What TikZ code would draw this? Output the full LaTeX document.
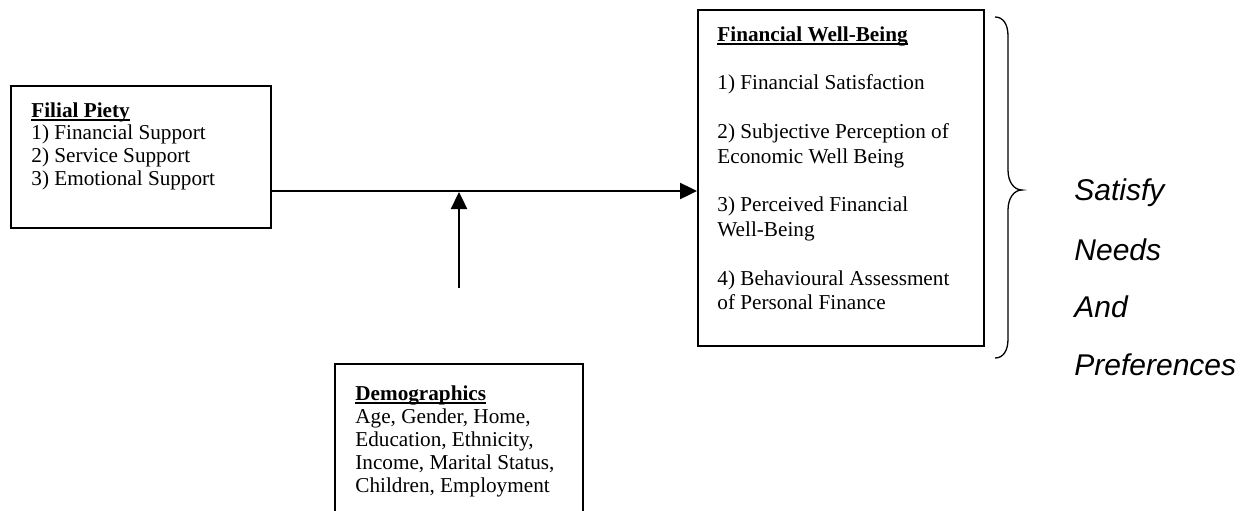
\documentclass[tikz,border=0pt]{standalone}
\usepackage{fontspec}
\setmainfont{Liberation Serif}
\newfontfamily\arialfont{Liberation Sans}
\usetikzlibrary{arrows.meta}
\newcommand\myul[1]{\setbox0\hbox{\textbf{#1}}\rlap{\rule[-1.7pt]{\wd0}{0.85pt}}\box0}
\begin{document}
\begin{tikzpicture}[x=0.5pt,y=-0.5pt,
  boxframe/.style={draw, line width=0.8pt, inner sep=0pt, anchor=north west},
  txt/.style={inner sep=0pt, anchor=north west, align=left},
  arr/.style={line width=1.2pt, -{Triangle[length=8.5pt,width=8pt]}},
  side/.style={inner sep=0pt, anchor=west, font=\arialfont\itshape\fontsize{15}{17}\selectfont}]
\useasboundingbox (0,0) rectangle (1246,510);

% Filial Piety
\node[boxframe, minimum width=130pt, minimum height=71pt] (filial) at (10,85) {};
\node[txt, font=\fontsize{10.6}{11.4}\selectfont] (filialtxt) at (31,102) {\myul{Filial Piety}\\
1) Financial Support\\
2) Service Support\\
3) Emotional Support};

% Financial Well-Being
\node[boxframe, minimum width=143pt, minimum height=168pt] (fin) at (697,9) {};
\node[txt, font=\fontsize{10.6}{12.2}\selectfont] (fintxt) at (717,26) {\myul{Financial Well-Being}\\[12.2pt]
1) Financial Satisfaction\\[12.2pt]
2) Subjective Perception of\\
Economic Well Being\\[12.2pt]
3) Perceived Financial\\
Well-Being\\[12.2pt]
4) Behavioural Assessment\\
of Personal Finance};

% Demographics (box runs past the bottom edge)
\begin{scope}
\clip (0,0) rectangle (1246,510);
\node[boxframe, minimum width=124pt, minimum height=85pt] (demo) at (334,363) {};
\end{scope}
\node[txt, font=\fontsize{10.6}{11.5}\selectfont] (demotxt) at (355,385) {\myul{Demographics}\\
Age, Gender, Home,\\
Education, Ethnicity,\\
Income, Marital Status,\\
Children, Employment};

% connectors
\coordinate (mod) at (459,288);
\coordinate (j) at (459,192);
\draw[arr] (filial.east |- 0,191) -- (fin.west |- 0,191);
\draw[arr] (mod) -- (j);

% brace
\draw[line width=0.65pt] (995,17) .. controls (1003,17) and (1008,24) .. (1008,36) -- (1008,170)
  .. controls (1008,182) and (1014,190) .. (1022,190)
  .. controls (1014,190) and (1008,198) .. (1008,210) -- (1008,339)
  .. controls (1008,351) and (1003,358) .. (995,358);

% side labels
\node[side] (s1) at (1074,193) {Satisfy};
\node[side] (s2) at (1074,250) {Needs};
\node[side] (s3) at (1074,307) {And};
\node[side] (s4) at (1074,365) {Preferences};
\end{tikzpicture}
\end{document}
